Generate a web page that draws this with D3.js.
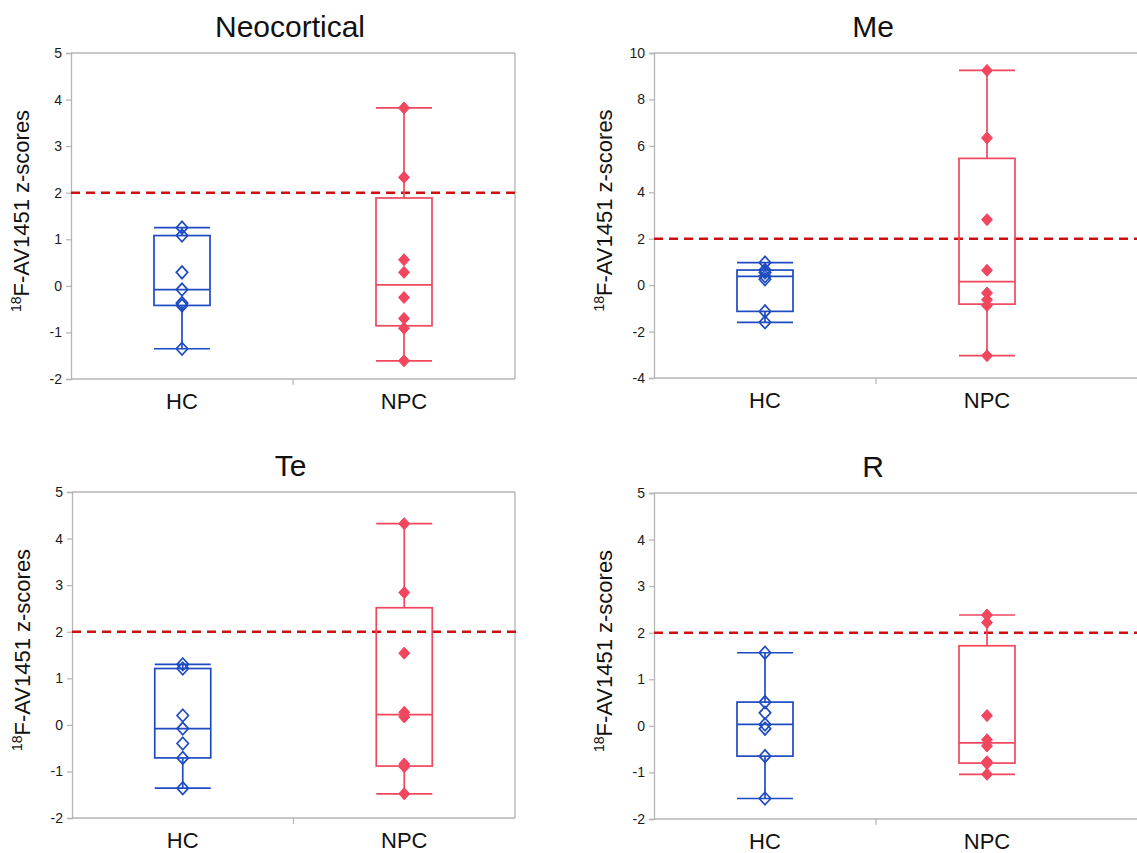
<!DOCTYPE html>
<html>
<head>
<meta charset="utf-8">
<script src="https://cdn.jsdelivr.net/npm/d3@7"></script>
<style>
  body { margin: 0; background: #fff; }
  svg { font-family: "Liberation Sans", Arial, Helvetica, sans-serif; }
</style>
</head>
<body>
<div id="chart"></div>
<script>
// data
const groups = ["HC", "NPC"];
const panelTitles = ["Neocortical", "Me", "Te", "R"];

const neoHC = [1.25, 1.08, 0.29, -0.08, -0.37, -0.42, -1.35];
const neoNPC = [3.82, 2.33, 0.56, 0.29, -0.25, -0.70, -0.91, -1.61];
const meHC = [0.97, 0.65, 0.55, 0.38, 0.25, -1.13, -1.60];
const meNPC = [9.25, 6.34, 2.82, 0.64, -0.34, -0.63, -0.88, -3.04];
const teHC = [1.30, 1.21, 0.20, -0.08, -0.40, -0.71, -1.36];
const teNPC = [4.32, 2.84, 1.54, 0.27, 0.17, -0.84, -0.90, -1.48];
const rHC = [1.57, 0.51, 0.28, 0.03, -0.06, -0.65, -1.56];
const rNPC = [2.38, 2.22, 0.22, -0.30, -0.43, -0.77, -0.81, -1.04];

const zTicks = [-2, -1, 0, 1, 2, 3, 4, 5];
const meTicks = [-4, -2, 0, 2, 4, 6, 8, 10];
const cutoff = 2;

const W = 1137, H = 853;
const colors = { HC: "#1f4bc1", NPC: "#f0475f" };

const panels = [
  { title: panelTitles[0], data: [neoHC, neoNPC], ticks: zTicks, x: 71, y: 53, w: 444, h: 326, right: true },
  { title: panelTitles[1], data: [meHC, meNPC], ticks: meTicks, x: 654, y: 53, w: 444, h: 325, right: false },
  { title: panelTitles[2], data: [teHC, teNPC], ticks: zTicks, x: 72, y: 492, w: 443, h: 326, right: true },
  { title: panelTitles[3], data: [rHC, rNPC], ticks: zTicks, x: 654, y: 493, w: 444, h: 326, right: false }
];

// JMP style quantile, position (n+1)p
function quant(sorted, p) {
  const n = sorted.length;
  const h = (n + 1) * p;
  const lo = Math.floor(h);
  if (lo < 1) return sorted[0];
  if (lo >= n) return sorted[n - 1];
  return sorted[lo - 1] + (h - lo) * (sorted[lo] - sorted[lo - 1]);
}

// slightly tall diamond like the JMP markers
const jmpDiamond = {
  draw(ctx, size) {
    const w = Math.sqrt(size) / 2, h = w * 1.1;
    ctx.moveTo(0, -h); ctx.lineTo(w, 0); ctx.lineTo(0, h); ctx.lineTo(-w, 0); ctx.closePath();
  }
};

const svg = d3.select("#chart").append("svg").attr("width", W).attr("height", H);

panels.forEach(p => {
  const g = svg.append("g").attr("transform", `translate(${p.x},${p.y})`);
  const y = d3.scaleLinear().domain(d3.extent(p.ticks)).range([p.h, 0]);
  const x = d3.scaleBand().domain(groups).range([0, p.w]);
  const edge = p.right ? p.w : W - p.x;

  // frame
  g.append("line").attr("x1", 0).attr("x2", edge).attr("y1", 0).attr("y2", 0).attr("stroke", "#b4b4b4").attr("stroke-width", 1.3);
  g.append("line").attr("x1", 0).attr("x2", edge).attr("y1", p.h).attr("y2", p.h).attr("stroke", "#b4b4b4").attr("stroke-width", 1.3);
  if (p.right) g.append("line").attr("x1", p.w).attr("x2", p.w).attr("y1", 0).attr("y2", p.h).attr("stroke", "#b4b4b4").attr("stroke-width", 1.3);

  const yAxis = g.append("g").call(d3.axisLeft(y).tickValues(p.ticks).tickSize(5).tickPadding(4).tickFormat(d => String(d)));
  yAxis.select(".domain").attr("stroke", "#b4b4b4").attr("stroke-width", 1.3);
  yAxis.selectAll(".tick line").attr("stroke", "#b4b4b4").attr("stroke-width", 1.2);
  yAxis.selectAll("text").attr("font-size", 14).attr("fill", "#1a1a1a").attr("font-family", "Liberation Sans, Arial, sans-serif");

  // tick between the two groups
  g.append("line").attr("x1", x.step()).attr("x2", x.step()).attr("y1", p.h).attr("y2", p.h + 6).attr("stroke", "#b4b4b4").attr("stroke-width", 1.2);

  g.selectAll(".cat").data(groups).join("text").attr("class", "cat")
    .attr("x", d => x(d) + x.bandwidth() / 2).attr("y", p.h + 30)
    .attr("text-anchor", "middle").attr("font-size", 22).attr("fill", "#111").text(d => d);

  svg.append("text").attr("x", p.x + p.w / 2 - 3).attr("y", p.y - 16)
    .attr("text-anchor", "middle").attr("font-size", 30).attr("fill", "#111").text(p.title);

  const yl = g.append("text").attr("transform", `translate(${-42},${p.h / 2 - 5}) rotate(-90)`)
    .attr("text-anchor", "middle").attr("font-size", 22).attr("fill", "#111");
  yl.append("tspan").attr("font-size", 14).attr("dy", -8).text("18");
  yl.append("tspan").attr("dy", 8).text("F-AV1451 z-scores");

  // cutoff line
  g.append("line").attr("x1", 0).attr("x2", edge + (p.right ? 3 : 0)).attr("y1", y(cutoff)).attr("y2", y(cutoff))
    .attr("stroke", "#cc1111").attr("stroke-width", 2.5).attr("stroke-dasharray", "9,6");

  const bw = 56;
  groups.forEach((grp, i) => {
    const vals = p.data[i].slice().sort(d3.ascending);
    const c = colors[grp];
    const cx = x(grp) + x.bandwidth() / 2;
    const q1 = quant(vals, 0.25), med = quant(vals, 0.5), q3 = quant(vals, 0.75);
    const lo = vals[0], hi = vals[vals.length - 1];
    const bg = g.append("g").attr("stroke", c).attr("stroke-width", 1.7).attr("fill", "none");
    bg.append("line").attr("x1", cx).attr("x2", cx).attr("y1", y(hi)).attr("y2", y(q3));
    bg.append("line").attr("x1", cx).attr("x2", cx).attr("y1", y(q1)).attr("y2", y(lo));
    bg.append("line").attr("x1", cx - bw / 2).attr("x2", cx + bw / 2).attr("y1", y(hi)).attr("y2", y(hi));
    bg.append("line").attr("x1", cx - bw / 2).attr("x2", cx + bw / 2).attr("y1", y(lo)).attr("y2", y(lo));
    bg.append("rect").attr("x", cx - bw / 2).attr("width", bw).attr("y", y(q3)).attr("height", y(q1) - y(q3));
    bg.append("line").attr("x1", cx - bw / 2).attr("x2", cx + bw / 2).attr("y1", y(med)).attr("y2", y(med));

    const sym = d3.symbol().type(jmpDiamond).size(grp === "HC" ? 130 : 120);
    g.selectAll(null).data(vals).join("path")
      .attr("transform", d => `translate(${cx},${y(d)})`)
      .attr("d", sym)
      .attr("fill", grp === "HC" ? "none" : c)
      .attr("stroke", c).attr("stroke-width", grp === "HC" ? 1.7 : 1);
  });
});
</script>
</body>
</html>
